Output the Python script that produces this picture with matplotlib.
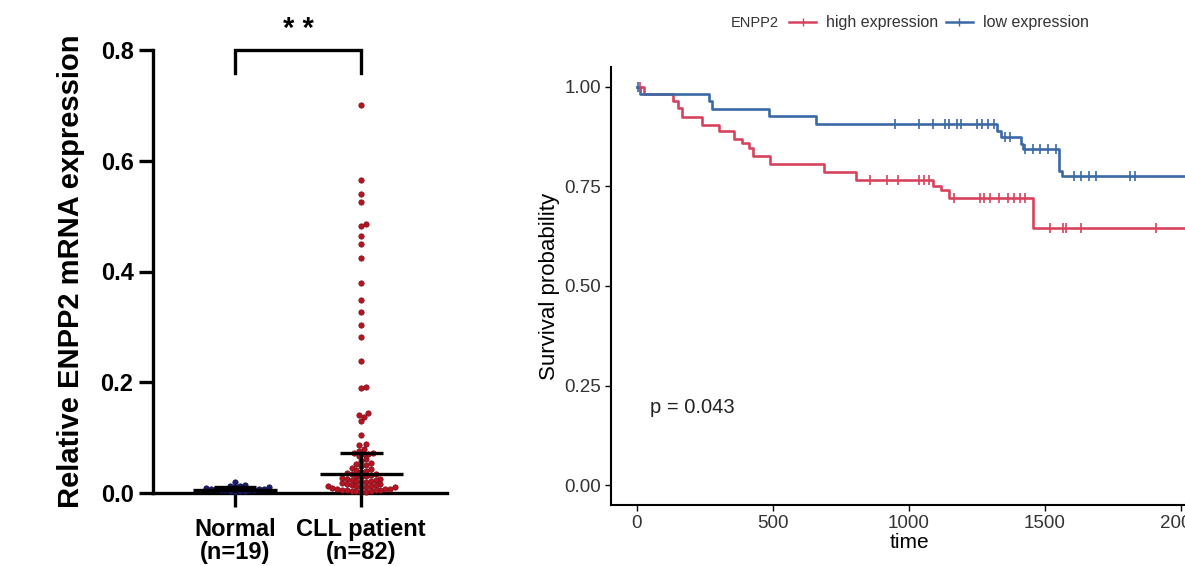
import numpy as np
import matplotlib
matplotlib.use("Agg")
import matplotlib.pyplot as plt
from matplotlib.lines import Line2D

# ---------------- data: left panel ----------------
groups = ["Normal\n(n=19)", "CLL patient\n(n=82)"]
normal_values = [0.002, 0.003, 0.004, 0.004, 0.005, 0.005, 0.006, 0.006, 0.007, 0.007,
                 0.008, 0.008, 0.009, 0.010, 0.011, 0.012, 0.013, 0.015, 0.020]
cll_values = [0.700, 0.565, 0.540, 0.526, 0.486, 0.482, 0.464, 0.450, 0.424, 0.379,
              0.349, 0.327, 0.303, 0.282, 0.238, 0.192, 0.190, 0.145, 0.141, 0.138,
              0.130, 0.105,
              0.088, 0.086, 0.080, 0.076, 0.073, 0.072, 0.071, 0.070, 0.066, 0.061,
              0.058, 0.055, 0.052, 0.050, 0.048,
              0.045, 0.043, 0.041, 0.040, 0.038, 0.036, 0.035, 0.034, 0.032, 0.031,
              0.030, 0.028, 0.027, 0.026, 0.025, 0.024, 0.023, 0.022, 0.021, 0.020,
              0.019, 0.018, 0.017, 0.016, 0.015, 0.014, 0.013, 0.012, 0.012, 0.011,
              0.010, 0.010, 0.009, 0.008, 0.008, 0.007, 0.006, 0.006, 0.005, 0.005,
              0.004, 0.004, 0.003, 0.002, 0.001]
center_values = [0.006, 0.035]
upper_values = [0.010, 0.072]
lower_values = [0.003, 0.0]
significance = "* *"

# ---------------- data: right panel (Kaplan-Meier) ----------------
high_times = [0, 25, 133, 151, 164, 240, 303, 358, 385, 413, 426, 488, 687, 804,
              1089, 1119, 1147, 1455]
high_surv = [1.0, 0.982, 0.965, 0.946, 0.924, 0.905, 0.889, 0.870, 0.860, 0.846,
             0.827, 0.806, 0.787, 0.767, 0.752, 0.740, 0.722, 0.645]
high_censor = [10, 858, 920, 961, 1037, 1055, 1075, 1167, 1263, 1277, 1297, 1332,
               1366, 1387, 1407, 1428, 1517, 1565, 1578, 1633, 1908]
low_times = [0, 12, 265, 275, 485, 657, 1325, 1338, 1411, 1421, 1551, 1563]
low_surv = [1.0, 0.982, 0.965, 0.944, 0.926, 0.907, 0.889, 0.874, 0.856, 0.843,
            0.790, 0.777]
low_censor = [5, 948, 1037, 1089, 1133, 1147, 1178, 1192, 1249, 1270, 1291, 1311,
              1352, 1373, 1428, 1455, 1483, 1510, 1540, 1606, 1633, 1661, 1688,
              1812, 1832, 2030]
end_time = 2100
p_text = "p = 0.043"
legend_title = "ENPP2"
legend_labels = ["high expression", "low expression"]

RED = "#D7435E"
BLUE = "#3A69A6"

fig = plt.figure(figsize=(11.85, 5.66), dpi=100)

# ================= left panel =================
axL = fig.add_axes([153/1185, 1-493/566, (447-153)/1185, (493-50)/566])
axL.set_xlim(-0.65, 1.68)
axL.set_ylim(0, 0.8)

px_x = (447-153)/(1.68+0.65)      # px per x unit
px_y = (493-50)/0.8               # px per y unit


def swarm(values, center, diam_px=4.8):
    vals = np.asarray(values, float)
    order = np.argsort(vals)
    placed = []
    xs = np.zeros(len(vals))
    cands = [0]
    for j in range(1, 80):
        cands += [j, -j]
    for i in order:
        y = vals[i] * px_y
        for c in cands:
            x = c * diam_px * 0.5
            ok = True
            for (qx, qy) in placed:
                if (qx - x) ** 2 + (qy - y) ** 2 < diam_px ** 2:
                    ok = False
                    break
            if ok:
                break
        placed.append((x, y))
        xs[i] = center + x / px_x
    return xs, vals


xn, yn = swarm(normal_values, 0)
xc, yc = swarm(cll_values, 1)
axL.scatter(xn, yn, s=15, marker="o", color="#1b1b6b", edgecolors="#10104a",
            linewidths=0.5, zorder=3, clip_on=False)
axL.scatter(xc, yc, s=15, marker="o", color="#b8141f", edgecolors="#7a1020",
            linewidths=0.5, zorder=3, clip_on=False)

for i in range(2):
    axL.plot([i-0.33, i+0.33], [center_values[i]]*2, color="black", lw=2.4,
             zorder=4, solid_capstyle="butt", clip_on=False)
    axL.plot([i-0.17, i+0.17], [upper_values[i]]*2, color="black", lw=2.4,
             zorder=4, solid_capstyle="butt", clip_on=False)
    axL.plot([i, i], [lower_values[i], upper_values[i]], color="black", lw=2.4,
             zorder=4, clip_on=False)

# significance bracket
axL.plot([0, 0, 1, 1], [0.758, 0.8, 0.8, 0.758], color="black", lw=2.4,
         clip_on=False, solid_joinstyle="miter")
axL.text(0.5, 0.812, significance, ha="center", va="bottom", fontsize=21,
         fontweight="bold", family="Liberation Sans")

for s in ["top", "right"]:
    axL.spines[s].set_visible(False)
for s in ["left", "bottom"]:
    axL.spines[s].set_linewidth(2.4)
axL.set_yticks([0, 0.2, 0.4, 0.6, 0.8])
axL.set_yticklabels(["0.0", "0.2", "0.4", "0.6", "0.8"])
axL.set_xticks([0, 1])
axL.set_xticklabels(groups, linespacing=1.0)
axL.tick_params(axis="both", width=2.4, length=10, direction="out")
axL.tick_params(axis="y", pad=4)
axL.tick_params(axis="x", pad=8)
for lab in axL.get_yticklabels() + axL.get_xticklabels():
    lab.set_family("Liberation Sans")
    lab.set_fontweight("bold")
    lab.set_fontsize(17)
axL.set_ylabel("Relative ENPP2 mRNA expression", fontsize=21, fontweight="bold",
               family="Liberation Sans", labelpad=11)

# ================= right panel =================
axR = fig.add_axes([611/1185, 1-505/566, (1185-611)/1185+0.02, (505-67)/566])
axR.set_xlim(-95.6, 2015 + 0.02*1185*500/136)
axR.set_ylim(-0.05, 1.05)


def km_plot(times, surv, censor, color):
    t = list(times) + [end_time]
    s = list(surv) + [surv[-1]]
    axR.step(t, s, where="post", color=color, lw=1.9, zorder=3)
    cy = [surv[np.searchsorted(times, c, side="right") - 1] for c in censor]
    axR.scatter(censor, cy, marker="|", s=45, color=color, linewidths=1.2, zorder=4)


km_plot(high_times, high_surv, high_censor, RED)
km_plot(low_times, low_surv, low_censor, BLUE)

axR.text(48, 0.195, p_text, ha="left", va="center", fontsize=14.5,
         family="Liberation Sans", color="#222222")

for s in ["top", "right"]:
    axR.spines[s].set_visible(False)
for s in ["left", "bottom"]:
    axR.spines[s].set_linewidth(1.5)
axR.set_yticks([0, 0.25, 0.5, 0.75, 1.0])
axR.set_yticklabels(["0.00", "0.25", "0.50", "0.75", "1.00"])
axR.set_xticks([0, 500, 1000, 1500, 2000])
axR.tick_params(axis="both", width=1.0, length=4, labelsize=13.5,
                labelcolor="#333333", pad=3)
for lab in axR.get_yticklabels() + axR.get_xticklabels():
    lab.set_family("Liberation Sans")
axR.set_xlabel("time", fontsize=15, family="Liberation Sans", labelpad=1)
axR.set_ylabel("Survival probability", fontsize=16, family="Liberation Sans",
               labelpad=3)

# legend
fig.text(731/1185, 1-23/566, legend_title, ha="left", va="center", fontsize=10.5,
         family="Liberation Sans", color="#333333")
handles = [Line2D([], [], color=RED, lw=1.8, marker="|", markersize=6),
           Line2D([], [], color=BLUE, lw=1.8, marker="|", markersize=6)]
fig.legend(handles, legend_labels, ncol=2, frameon=False, loc="center left",
           bbox_to_anchor=(789/1185, 1-23/566),
           prop={"family": "Liberation Sans", "size": 11.5},
           handlelength=1.7, handletextpad=0.6, columnspacing=0.5,
           labelcolor="#333333", borderaxespad=0, borderpad=0)

fig.savefig("out.png", dpi=100)
